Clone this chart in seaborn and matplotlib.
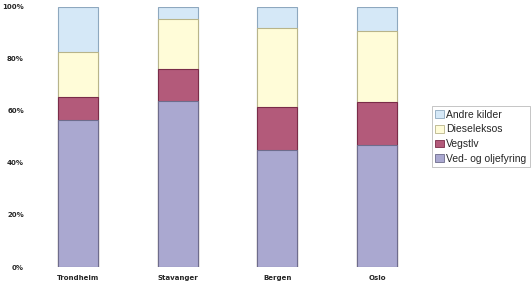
import matplotlib
matplotlib.use("Agg")
import matplotlib.pyplot as plt
import seaborn as sns
import pandas as pd
import numpy as np
from matplotlib.patches import Patch

cities = ["Trondheim", "Stavanger", "Bergen", "Oslo"]
ved = [56.3, 63.9, 44.8, 47.0]
vegstov = [9.0, 12.2, 16.7, 16.4]
diesel = [17.3, 19.0, 30.2, 27.1]
andre = [17.4, 4.9, 8.3, 9.5]

series_names = ["Ved- og oljefyring", "Vegstlv", "Dieseleksos", "Andre kilder"]
series_vals = [ved, vegstov, diesel, andre]
colors = ["#aaa8d0", "#b35a7a", "#fffcd8", "#d5e8f7"]
edges = ["#6e6c8c", "#7a2c48", "#b8b48a", "#8ea8bf"]

sns.set_style("white")
plt.rcParams['font.family'] = ['DejaVu Sans']

fig = plt.figure(figsize=(5.31, 2.85), dpi=100)
ax = fig.add_axes([0.053, 0.063, 0.751, 0.914])

cum = np.cumsum(np.array(series_vals), axis=0)
for i in range(len(series_names) - 1, -1, -1):
    df = pd.DataFrame({"city": cities, "val": cum[i]})
    sns.barplot(data=df, x="city", y="val", color=colors[i], width=0.4,
                edgecolor=edges[i], linewidth=0.8, saturation=1, ax=ax,
                errorbar=None, order=cities)

ax.set_xlim(-0.5, 3.5)
ax.set_ylim(0, 100)
ax.set_yticks([0, 20, 40, 60, 80, 100])
ax.set_yticklabels([f"{v}%" for v in [0, 20, 40, 60, 80, 100]], fontsize=5, fontweight="bold")
ax.set_xticklabels(cities, fontsize=5, fontweight="bold")
ax.tick_params(axis="y", length=0, pad=3)
ax.tick_params(axis="x", length=0, pad=6)
ax.set_xlabel("")
ax.set_ylabel("")
for s in ax.spines.values():
    s.set_visible(False)

handles = [Patch(facecolor=colors[i], edgecolor=edges[i], linewidth=0.6, label=series_names[i])
           for i in range(len(series_names) - 1, -1, -1)]
leg = fig.legend(handles=handles, loc="upper left", bbox_to_anchor=(0.813, 0.628),
                 prop={"family": "Liberation Sans", "size": 7.5}, frameon=True,
                 handlelength=0.85, handleheight=0.75, handletextpad=0.2,
                 labelspacing=0.45, borderpad=0.35, fancybox=False, borderaxespad=0)
leg.get_frame().set_edgecolor("#999999")
leg.get_frame().set_linewidth(0.5)

fig.savefig("out.png", dpi=100)
